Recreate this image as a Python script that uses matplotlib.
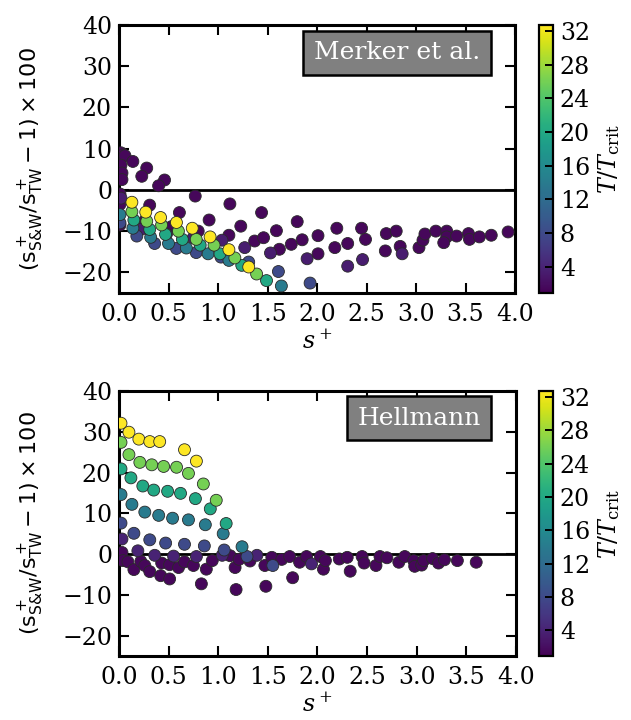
import numpy as np
import matplotlib
matplotlib.use("Agg")
import matplotlib.pyplot as plt
from matplotlib.colors import Normalize

plt.rcParams['font.family'] = ['DejaVu Serif']
plt.rcParams['mathtext.fontset'] = 'dejavuserif'
plt.rcParams['font.size'] = 16

# ---------------- Merker et al. (top) ----------------
mk_T = [32.7, 26, 20, 14, 8, 3.5, 1.5]
mk_s = [
    [0.13, 0.27, 0.42, 0.58, 0.74, 0.92, 1.11, 1.31],
    [0.13, 0.28, 0.43, 0.60, 0.78, 0.96, 1.17, 1.39],
    [0.15, 0.31, 0.47, 0.64, 0.82, 1.02, 1.24, 1.49],
    [0.01, 0.14, 0.32, 0.50, 0.68, 0.90, 1.11, 1.64],
    [0.01, 0.18, 0.36, 0.58, 0.78, 1.03, 1.31, 1.61, 1.93],
    [0.02, 0.23, 0.48, 0.75, 1.04, 1.27, 1.53, 1.90, 2.31, 2.46, 2.86],
    [0.02, 0.04, 0.06, 0.14, 0.28, 0.23, 0.46, 0.40, 0.02, 0.03, 0.03,
     0.01, 0.01, 0.01, 0.77, 0.31, 1.12, 0.61, 1.44, 0.91, 1.23, 1.80,
     1.59, 0.26, 0.53, 0.80, 1.11, 1.37, 1.46, 1.62, 1.74, 1.85, 2.01,
     2.01, 2.20, 2.18, 2.31, 2.45, 2.49, 2.70, 2.80, 2.69, 2.84, 3.03,
     3.07, 3.09, 3.20, 3.31, 3.31, 3.28, 3.41, 3.53, 3.54, 3.64, 3.76, 3.93],
]
mk_v = [
    [-3.0, -5.4, -6.7, -7.9, -9.3, -11.4, -14.5, -18.7],
    [-5.3, -7.6, -8.5, -10.0, -12.0, -13.4, -16.5, -20.4],
    [-7.3, -9.6, -10.8, -12.0, -13.4, -15.5, -18.3, -22.0],
    [-6.0, -9.3, -11.5, -13.0, -14.1, -15.5, -17.1, -23.3],
    [-8.0, -11.2, -13.0, -14.2, -15.2, -16.3, -17.5, -19.8, -22.6],
    [-2.0, -9.5, -10.7, -11.6, -12.2, -14.0, -15.3, -16.7, -18.5, -16.9, -15.5],
    [9.0, 8.5, 8.3, 6.9, 5.3, 3.3, 2.4, 1.0, 6.0, 4.1, 2.5,
     -1.0, -3.5, -8.5, -1.5, -3.7, -3.4, -5.5, -5.5, -7.3, -8.8, -7.7,
     -9.9, -7.5, -8.9, -10.0, -11.0, -12.4, -11.6, -14.4, -13.2, -12.1, -11.1,
     -15.5, -9.3, -14.0, -13.0, -9.3, -12.0, -10.6, -10.0, -14.8, -13.7, -14.0,
     -12.2, -10.7, -10.0, -10.0, -11.4, -12.8, -11.2, -10.6, -12.0, -11.4, -11.0, -10.2],
]

# ---------------- Hellmann (bottom) ----------------
hm_T = [32.7, 26, 20, 14, 8, 4, 1.5]
hm_s = [
    [0.02, 0.10, 0.20, 0.31, 0.41, 0.66, 0.78],
    [0.02, 0.10, 0.21, 0.33, 0.45, 0.58, 0.70, 0.85, 0.98],
    [0.02, 0.12, 0.24, 0.35, 0.49, 0.62, 0.77, 0.92, 1.08],
    [0.02, 0.13, 0.26, 0.40, 0.54, 0.70, 0.87, 1.05, 1.24],
    [0.02, 0.15, 0.31, 0.47, 0.66, 0.86, 1.06, 1.29, 1.55],
    [0.03, 0.19, 0.36, 0.55, 0.78, 1.04, 1.39, 1.94],
    [0.03, 0.04, 0.09, 0.15, 0.22, 0.26, 0.31, 0.43, 0.42, 0.51, 0.51,
     0.60, 0.66, 0.75, 0.83, 0.88, 0.94, 1.12, 1.17, 1.18, 1.21, 1.32,
     1.47, 1.48, 1.54, 1.64, 1.72, 1.75, 1.82, 1.89, 2.03, 2.06, 2.08,
     2.22, 2.30, 2.33, 2.45, 2.47, 2.59, 2.63, 2.70, 2.82, 2.88, 2.97,
     2.98, 3.05, 3.07, 3.16, 3.22, 3.28, 3.41, 3.60],
]
hm_v = [
    [32.1, 29.9, 28.2, 27.6, 27.6, 25.6, 22.8],
    [27.4, 24.4, 22.5, 21.9, 21.5, 21.3, 19.8, 17.2, 13.2],
    [20.9, 18.7, 16.7, 15.7, 15.4, 14.9, 13.6, 11.1, 7.5],
    [14.6, 12.2, 10.3, 9.5, 8.8, 8.4, 7.2, 5.0, 1.8],
    [7.6, 5.1, 3.5, 2.7, 2.4, 2.0, 1.0, -0.6, -2.8],
    [3.7, 0.8, -0.3, -0.5, -0.6, -0.3, -0.3, -2.4],
    [0.4, -1.6, -1.9, -3.8, -1.8, -2.8, -4.3, -2.2, -5.3, -6.1, -2.6,
     -3.3, -1.9, -2.8, -7.3, -3.7, -1.6, -0.4, -3.3, -8.7, -1.3, -1.7,
     -2.8, -7.9, -0.8, -1.3, -0.6, -5.8, -2.0, -0.6, -0.6, -3.7, -1.6,
     -1.2, -0.8, -4.2, -0.6, -2.2, -2.8, -0.6, -0.9, -2.0, -0.6, -1.6,
     -3.0, -2.7, -1.6, -1.1, -2.2, -1.4, -1.6, -2.0],
]

cb_ticks = [4, 8, 12, 16, 20, 24, 28, 32]
x_ticks = [0.0, 0.5, 1.0, 1.5, 2.0, 2.5, 3.0, 3.5, 4.0]
y_ticks = [-20, -10, 0, 10, 20, 30, 40]

fig = plt.figure(figsize=(6.31, 7.2), dpi=100)
norm = Normalize(vmin=0.9, vmax=32.7)

panels = [
    ([0.1886, 0.5931, 0.6276, 0.3722], [0.854, 0.5931, 0.0222, 0.3722], mk_s, mk_v, mk_T, "Merker et al."),
    ([0.1886, 0.0889, 0.6290, 0.3680], [0.854, 0.0889, 0.0222, 0.3680], hm_s, hm_v, hm_T, "Hellmann"),
]

ylabel = r'$(\mathrm{s}^+_{\mathrm{S&W}}/\mathrm{s}^+_{\mathrm{TW}} - 1)\times 100$'

for rect, crect, S, V, T, name in panels:
    ax = fig.add_axes(rect)
    xs, ys, cs = [], [], []
    for s_, v_, t_ in reversed(list(zip(S, V, T))):
        xs += list(s_)
        ys += list(v_)
        cs += [t_] * len(s_)
    sc = ax.scatter(xs, ys, c=cs, cmap='viridis', norm=norm, s=74,
                    edgecolors='#2a2a2a', linewidths=0.6, zorder=3)
    ax.axhline(0, color='black', lw=2.0, zorder=2)
    ax.set_xlim(0, 4)
    ax.set_ylim(-25, 40)
    ax.set_xticks(x_ticks)
    ax.set_yticks(y_ticks)
    ax.tick_params(direction='in', length=7, width=1.5, top=True, right=True,
                   labelsize=17)
    ax.tick_params(axis='x', pad=7)
    ax.tick_params(axis='y', pad=5)
    for sp in ax.spines.values():
        sp.set_linewidth(2.2)
    ax.set_xlabel(r'$s^+$', fontsize=17, labelpad=3)
    ax.set_ylabel(ylabel, fontsize=16, labelpad=12, math_fontfamily='dejavusans')
    ax.text(0.912, 0.94, name, transform=ax.transAxes, ha='right', va='top',
            color='white', fontsize=18, zorder=5,
            bbox=dict(boxstyle='square,pad=0.42', fc='#808080', ec='black', lw=1.8))

    cax = fig.add_axes(crect)
    cb = fig.colorbar(sc, cax=cax, ticks=cb_ticks)
    cb.outline.set_linewidth(1.6)
    cax.tick_params(direction='in', length=6, width=1.4, labelsize=17, pad=5)
    cb.set_label(r'$T/T_{\rm crit}$', fontsize=17, labelpad=4)

fig.savefig('out.png', dpi=100)
